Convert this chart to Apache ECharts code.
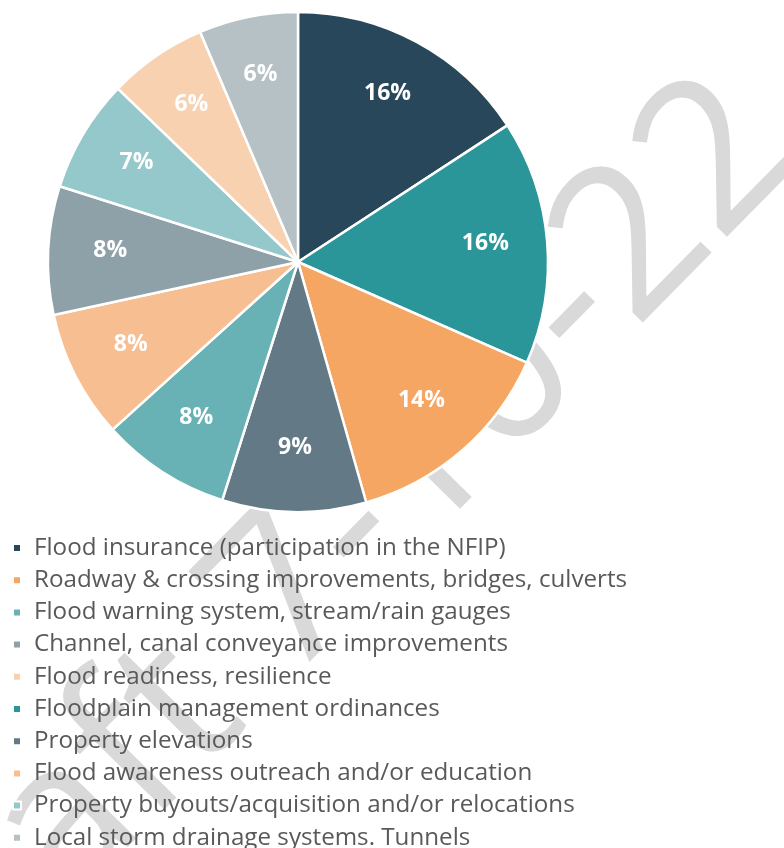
<!DOCTYPE html>
<html>
<head>
<meta charset="utf-8">
<script src="https://cdn.jsdelivr.net/npm/echarts@6/dist/echarts.min.js"></script>
<style>
  html, body { margin: 0; padding: 0; background: #fff; }
  #chart { width: 784px; height: 848px; }
</style>
</head>
<body>
<div id="chart"></div>
<script>
  // slices, clockwise from 12 o'clock
  var sliceNames = [
    'Flood insurance (participation in the NFIP)',
    'Floodplain management ordinances',
    'Roadway & crossing improvements, bridges, culverts',
    'Property elevations',
    'Flood warning system, stream/rain gauges',
    'Flood awareness outreach and/or education',
    'Channel, canal conveyance improvements',
    'Property buyouts/acquisition and/or relocations',
    'Flood readiness, resilience',
    'Local storm drainage systems. Tunnels'
  ]
  var sliceValues = [15.8, 15.8, 14.0, 9.3, 8.4, 8.3, 8.3, 7.3, 6.4, 6.4]
  var sliceColors = ['#28475a', '#2a9699', '#f5a662', '#637985', '#68b2b6',
                     '#f7bf91', '#8fa1a8', '#94c8cb', '#f8d2b0', '#b5c1c5']
  // legend order as in the figure
  var legendOrder = [
    'Flood insurance (participation in the NFIP)',
    'Roadway & crossing improvements, bridges, culverts',
    'Flood warning system, stream/rain gauges',
    'Channel, canal conveyance improvements',
    'Flood readiness, resilience',
    'Floodplain management ordinances',
    'Property elevations',
    'Flood awareness outreach and/or education',
    'Property buyouts/acquisition and/or relocations',
    'Local storm drainage systems. Tunnels'
  ]
  var watermark = 'Draft 7-10-22'

  var pieData = sliceNames.map(function (n, i) {
    return { name: n, value: sliceValues[i], itemStyle: { color: sliceColors[i] } }
  })

  var chart = echarts.init(document.getElementById('chart'))
  chart.setOption({
    animation: false,
    graphic: [{
      type: 'text',
      x: 309, y: 577,
      rotation: 45.5 * Math.PI / 180,
      z: -10,
      style: {
        text: watermark,
        fill: '#d9d9d9',
        font: '210px "Open Sans"',
        align: 'center',
        verticalAlign: 'middle'
      }
    }],
    legend: {
      data: legendOrder,
      orient: 'vertical',
      left: 12,
      top: 532,
      height: 400,
      padding: 0,
      icon: 'rect',
      itemWidth: 8,
      itemHeight: 8,
      itemGap: 0.2,
      selectedMode: false,
      textStyle: {
        fontFamily: 'Open Sans',
        fontSize: 24.2,
        lineHeight: 24,
        color: '#595959',
        padding: [0, 0, 8, 8]
      }
    },
    series: [{
      type: 'pie',
      center: [298, 262],
      radius: [0, 250],
      startAngle: 90,
      silent: true,
      itemStyle: { borderColor: '#fff', borderWidth: 2.5 },
      label: { show: false },
      labelLine: { show: false },
      data: pieData
    }, {
      // label ring, only carries the percent labels
      type: 'pie',
      center: [298, 262],
      radius: [120, 250],
      startAngle: 90,
      silent: true,
      itemStyle: { color: 'rgba(0,0,0,0)' },
      label: {
        show: true,
        position: 'inside',
        color: '#fff',
        fontFamily: 'Open Sans',
        fontWeight: 'bold',
        fontSize: 23,
        offset: [0, -3],
        formatter: function (p) { return Math.round(p.percent) + '%' }
      },
      labelLine: { show: false },
      data: pieData.map(function (d) { return { name: d.name, value: d.value, itemStyle: { color: 'rgba(0,0,0,0)' } } })
    }]
  })
</script>
</body>
</html>
